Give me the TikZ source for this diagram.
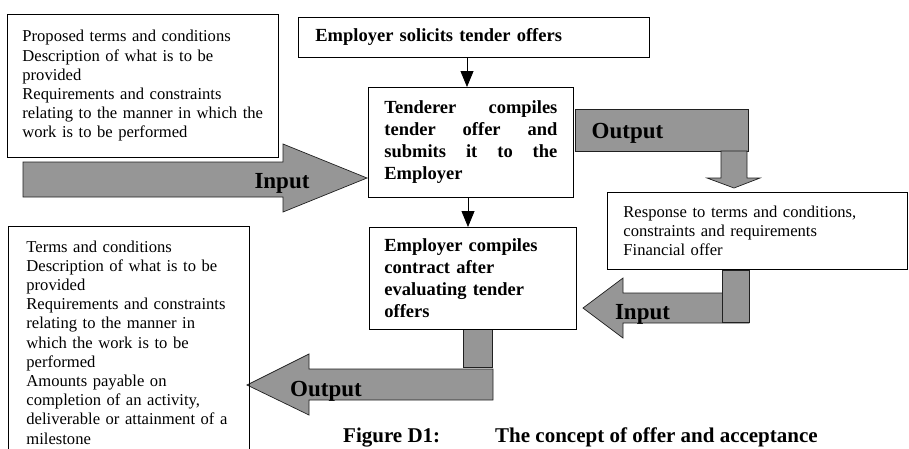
\documentclass[tikz,border=0pt]{standalone}
\usepackage{fontspec}
\setmainfont{Liberation Serif}
\usetikzlibrary{arrows.meta,positioning}
\definecolor{blockgray}{HTML}{969696}
\definecolor{edge}{HTML}{202020}
\tikzset{
  box/.style={draw=black, line width=0.8pt, anchor=north west, align=left,
    font=\fontsize{16.6}{19.2}\selectfont},
  bbox/.style={draw=black, line width=0.8pt, anchor=north west,
    font=\bfseries\fontsize{18.5}{22}\selectfont},
  blk/.style={fill=blockgray, draw=edge, line width=0.7pt},
  flow/.style={draw=black, line width=0.8pt, -{Triangle[length=16pt,width=13pt]}},
  biglbl/.style={font=\bfseries\fontsize{23}{26}\selectfont, anchor=base, inner sep=0pt},
  capt/.style={font=\bfseries\fontsize{21}{24}\selectfont, anchor=base west, inner sep=0pt}
}

\begin{document}
\begin{tikzpicture}[x=1pt, y=-1pt]
  \useasboundingbox (0,0) rectangle (909,448);

  % block arrows
  \draw[blk] (23,162) -- (283,162) -- (283,144) -- (367,178) -- (283,212)
    -- (283,197) -- (23,197) -- cycle;
  \draw[blk] (575,109) rectangle (748,151);
  \draw[blk] (721,151) -- (747,151) -- (747,178) -- (760,178) -- (734,188)
    -- (707,178) -- (721,178) -- cycle;
  \draw[blk] (749,293) -- (623,293) -- (623,278) -- (583,308) -- (623,338)
    -- (623,323) -- (749,323) -- cycle;
  \draw[blk] (722,270) rectangle (749,322);
  \draw[blk] (493,369) -- (309,369) -- (309,354) -- (247,385) -- (309,415)
    -- (309,400) -- (493,400) -- cycle;
  \draw[blk] (463,329) rectangle (492,367);

  \node[biglbl] (inA) at (282,188) {Input};
  \node[biglbl] (outA) at (627.5,138) {Output};
  \node[biglbl] (inB) at (642.5,319) {Input};
  \node[biglbl] (outB) at (326,396) {Output};

  % boxes
  \node[box, inner xsep=15pt, text width=241pt, minimum width=271pt,
    minimum height=143pt] (offerdocs) at (7,14)
    {Proposed terms and conditions\\Description of what is to be\\provided\\
     Requirements and constraints\\\mbox{relating to the manner in which the}\\
     work is to be performed};
  \node[bbox, inner xsep=17pt, text width=317pt, minimum width=351pt,
    minimum height=40pt, align=left] (solicit) at (298,17)
    {Employer solicits tender offers};
  \node[bbox, inner xsep=16pt, text width=173pt, minimum width=205pt,
    minimum height=110pt, align=justify] (tender) at (368,87)
    {Tenderer compiles\linebreak tender offer and\linebreak
     submits it to the\linebreak Employer};
  \node[bbox, inner xsep=15pt, text width=177pt, minimum width=207pt,
    minimum height=102pt, align=left] (contract) at (369,227)
    {Employer compiles\\contract after\\evaluating tender\\offers};
  \node[box, inner xsep=16pt, text width=268pt, minimum width=300pt,
    minimum height=77pt] (response) at (607,192)
    {Response to terms and conditions,\\constraints and requirements\\
     Financial offer};
  \node[box, inner xsep=18pt, text width=205pt, minimum width=241pt,
    minimum height=232pt] (terms) at (8,226)
    {Terms and conditions\\Description of what is to be\\provided\\
     Requirements and constraints\\relating to the manner in\\
     which the work is to be\\performed\\Amounts payable on\\
     completion of an activity,\\\mbox{deliverable or attainment of a}\\milestone};

  % connectors
  \coordinate (colA) at (467,0);
  \coordinate (colB) at (468,0);
  \draw[flow] (solicit.south -| colA) -- (tender.north -| colA);
  \draw[flow] (tender.south -| colB) -- (contract.north -| colB);

  \node[capt] (figno) at (343,442) {Figure D1:};
  \node[capt] (figtitle) at (495,442) {The concept of offer and acceptance};
\end{tikzpicture}
\end{document}
